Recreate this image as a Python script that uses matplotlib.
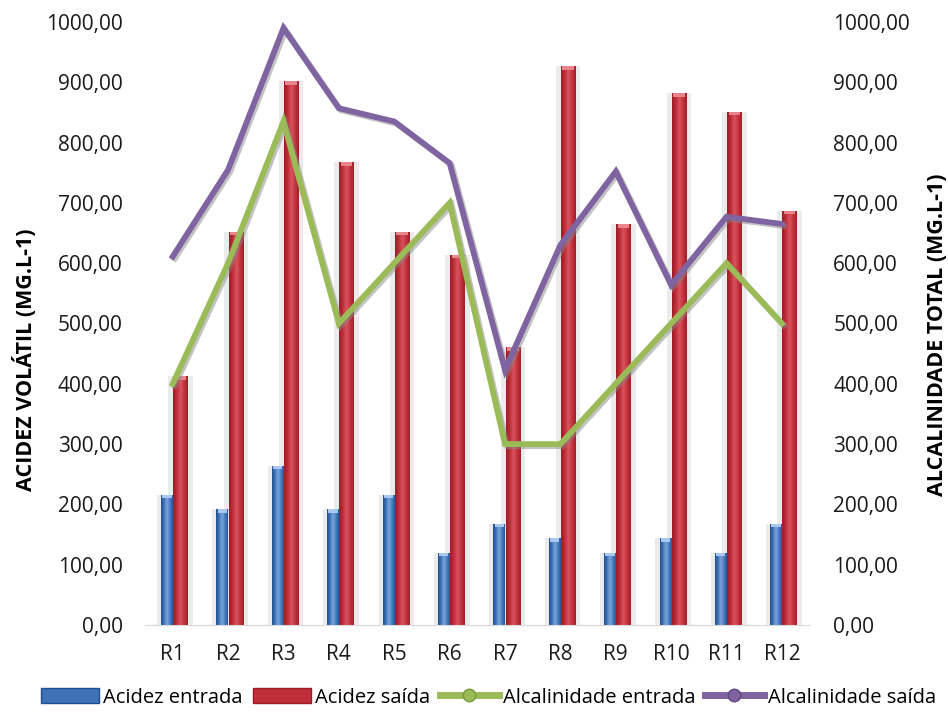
import numpy as np
import matplotlib
matplotlib.use("Agg")
import matplotlib.pyplot as plt
from matplotlib.colors import LinearSegmentedColormap
from matplotlib.patches import Patch
from matplotlib.lines import Line2D
from matplotlib.ticker import FuncFormatter, MultipleLocator
import matplotlib.patheffects as pe

plt.rcParams['font.family'] = ['Open Sans', 'DejaVu Sans']

categories = ["R1", "R2", "R3", "R4", "R5", "R6", "R7", "R8", "R9", "R10", "R11", "R12"]
acidez_entrada = [216, 192, 264, 192, 216, 120, 168, 144, 120, 144, 120, 168]
acidez_saida = [413, 652, 902, 768, 652, 614, 461, 927, 665, 882, 851, 687]
alcalinidade_entrada = [400, 600, 835, 500, 600, 700, 300, 300, 400, 500, 600, 500]
alcalinidade_saida = [611, 755, 990, 857, 835, 766, 423, 630, 752, 564, 677, 665]

fig = plt.figure(figsize=(9.48, 7.2), dpi=100)
ax = fig.add_axes([0.153, 0.132, 0.701, 0.8374])
ax2 = ax.twinx()

x = np.arange(len(categories))
ymax = 1000

blue_cmap = LinearSegmentedColormap.from_list(
    "cyl_blue", ["#1f4f8f", "#3f73b6", "#7ea6da", "#4a7ec0", "#24589a"])
red_cmap = LinearSegmentedColormap.from_list(
    "cyl_red", ["#9c1b25", "#bf2d37", "#d9555f", "#c3343e", "#a11e28"])

grad = np.linspace(0, 1, 64).reshape(1, -1)


def cylinder_bars(axis, xpos, values, width, cmap, cap_color):
    # soft halo behind each column
    axis.bar(xpos, values, width=width * 1.7, color="#d4d4d4", alpha=0.45,
             zorder=1, linewidth=0)
    bars = axis.bar(xpos, values, width=width, color="none", linewidth=0, zorder=2)
    for b in bars:
        x0, y0 = b.get_x(), b.get_y()
        w, h = b.get_width(), b.get_height()
        im = axis.imshow(grad, cmap=cmap, aspect="auto",
                         extent=(x0, x0 + w, y0, y0 + h), zorder=2,
                         interpolation="bicubic")
        im.set_clip_path(b)
        # lighter cap on top of the column
        cap_h = ymax * 0.006
        axis.bar(x0 + w / 2, cap_h, bottom=y0 + h - cap_h, width=w * 0.8,
                 color=cap_color, linewidth=0, zorder=3)
    return bars


cylinder_bars(ax, x - 0.105, acidez_entrada, 0.21, blue_cmap, "#a9c8ef")
cylinder_bars(ax, x + 0.14, acidez_saida, 0.26, red_cmap, "#e8858c")

ax.set_xlim(-0.5, len(categories) - 0.5)
ax.set_ylim(0, ymax)
ax2.set_ylim(0, ymax)

shadow = [pe.SimpleLineShadow(offset=(1.5, -1.5), shadow_color="#888888", alpha=0.5),
          pe.Normal()]
ax2.plot(x, alcalinidade_entrada, color="#9bbb59", lw=4.2, zorder=5,
         solid_joinstyle="miter", path_effects=shadow)
ax2.plot(x, alcalinidade_saida, color="#8064a2", lw=4.2, zorder=5,
         solid_joinstyle="miter", path_effects=shadow)

fmt = FuncFormatter(lambda v, p: f"{v:.2f}".replace(".", ","))
for a in (ax, ax2):
    a.yaxis.set_major_locator(MultipleLocator(100))
    a.yaxis.set_major_formatter(fmt)
    for s in a.spines.values():
        s.set_visible(False)
    a.tick_params(axis="y", length=0, labelsize=15, colors="#1a1a1a")

ax.tick_params(axis="y", pad=16)
ax2.tick_params(axis="y", pad=17)
ax.spines["bottom"].set_visible(True)
ax.spines["bottom"].set_color("#d9d9d9")
ax.set_xticks(x)
ax.set_xticklabels(categories)
ax.tick_params(axis="x", length=0, labelsize=15, pad=14, colors="#1a1a1a")

ax.set_ylabel("ACIDEZ VOLÁTIL (MG.L-1)", fontsize=15.5, fontweight="bold")
ax.yaxis.set_label_coords(-0.162, 0.44)
ax2.set_ylabel("ALCALINIDADE TOTAL (MG.L-1)", fontsize=15.5, fontweight="bold",
               rotation=90)
ax2.yaxis.set_label_coords(1.177, 0.481)

handles = [
    Patch(facecolor="#3f73b6", edgecolor="#1f4f8f"),
    Patch(facecolor="#c0303a", edgecolor="#9c1b25"),
    Line2D([], [], color="#9bbb59", lw=5, marker="o", markersize=9,
           markerfacecolor="#9bbb59", markeredgecolor="#7a9a3c"),
    Line2D([], [], color="#8064a2", lw=5, marker="o", markersize=9,
           markerfacecolor="#8064a2", markeredgecolor="#5e4680"),
]
labels = ["Acidez entrada", "Acidez saída", "Alcalinidade entrada", "Alcalinidade saída"]
fig.legend(handles, labels, loc="lower center", bbox_to_anchor=(0.515, -0.008),
           ncol=4, frameon=False, fontsize=14.5, handlelength=2.9,
           handletextpad=0.2, columnspacing=0.5, handleheight=0.8)

fig.savefig("out.png", dpi=100)
